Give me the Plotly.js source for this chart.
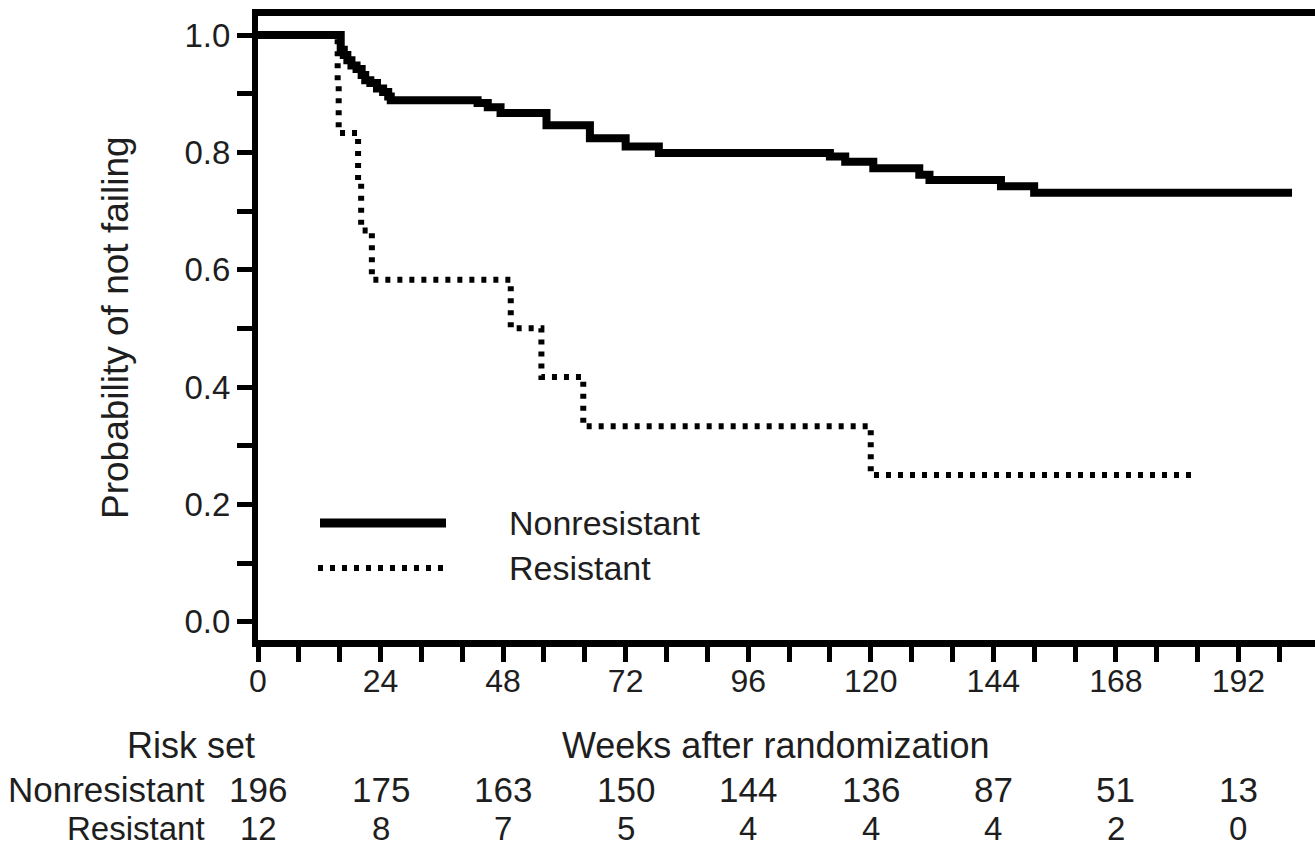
<!DOCTYPE html>
<html>
<head>
<meta charset="utf-8">
<script src="https://cdn.plot.ly/plotly-3.0.1.min.js"></script>
<style>html,body{margin:0;padding:0;background:#fff;}#chart{width:1315px;height:849px;}</style>
</head>
<body>
<div id="chart"></div>
<script>
// Kaplan-Meier curves (weeks, probability of not failing)
var nrWeeks = [0, 16.2, 16.8, 17.5, 18.3, 19.3, 20.3, 21.0, 22.0, 23.3, 24.5, 25.5, 26.0, 43.0, 45.0, 47.5, 56.5, 65.0, 72.0, 78.5, 112.0, 115.0, 120.5, 129.5, 131.5, 145.5, 152.0, 202.5];
var nrSurv  = [1.0, 0.975, 0.966, 0.957, 0.948, 0.942, 0.932, 0.923, 0.918, 0.909, 0.903, 0.895, 0.889, 0.884, 0.877, 0.867, 0.846, 0.824, 0.810, 0.799, 0.793, 0.784, 0.773, 0.762, 0.753, 0.742, 0.731, 0.731];
var rWeeks = [0, 15.6, 15.8, 19.6, 20.2, 22.3, 49.5, 55.5, 63.7, 120.0, 183.0];
var rSurv  = [1.0, 0.917, 0.833, 0.750, 0.667, 0.583, 0.500, 0.417, 0.333, 0.250, 0.250];

// Risk table
var riskWeeks = [0, 24, 48, 72, 96, 120, 144, 168, 192];
var riskNonresistant = [196, 175, 163, 150, 144, 136, 87, 51, 13];
var riskResistant = [12, 8, 7, 5, 4, 4, 4, 2, 0];
var groupNames = ['Nonresistant', 'Resistant'];

var FONT = 'Liberation Sans, Arial, Helvetica, sans-serif';
var TXT = '#1e1e1e';
var DOTS = '5px,7px';

var traces = [
  {x: nrWeeks, y: nrSurv, type: 'scatter', mode: 'lines', name: groupNames[0],
   line: {shape: 'hv', color: 'black', width: 8}, hoverinfo: 'skip'},
  {x: rWeeks, y: rSurv, type: 'scatter', mode: 'lines', name: groupNames[1],
   line: {shape: 'hv', color: 'black', width: 6, dash: DOTS}, hoverinfo: 'skip'}
];

// pixel helpers for layout decoration (plot: left 258, width 1057, top 16, height 624)
function px(xp){ return (xp - 258) / 1057; }
function py(yp){ return (640 - yp) / 624; }

var ann = [];
ann.push({text: 'Probability of not failing', xref: 'paper', yref: 'paper', x: px(115), y: 0.5,
  textangle: -90, showarrow: false, xanchor: 'center', yanchor: 'middle', font: {size: 37, family: FONT, color: TXT}});
ann.push({text: 'Risk set', xref: 'paper', yref: 'paper', x: px(191), y: py(745),
  showarrow: false, xanchor: 'center', yanchor: 'middle', font: {size: 36, family: FONT, color: TXT}});
ann.push({text: 'Weeks after randomization', xref: 'paper', yref: 'paper', x: px(776), y: py(745),
  showarrow: false, xanchor: 'center', yanchor: 'middle', font: {size: 36, family: FONT, color: TXT}});
ann.push({text: groupNames[0], xref: 'paper', yref: 'paper', x: px(207), y: py(789),
  showarrow: false, xanchor: 'right', yanchor: 'middle', font: {size: 35, family: FONT, color: TXT}});
ann.push({text: groupNames[1], xref: 'paper', yref: 'paper', x: px(207), y: py(828),
  showarrow: false, xanchor: 'right', yanchor: 'middle', font: {size: 33, family: FONT, color: TXT}});
for (var i = 0; i < riskWeeks.length; i++) {
  ann.push({text: String(riskNonresistant[i]), xref: 'x', yref: 'paper', x: riskWeeks[i], y: py(789),
    showarrow: false, xanchor: 'center', yanchor: 'middle', font: {size: 35, family: FONT, color: TXT}});
  ann.push({text: String(riskResistant[i]), xref: 'x', yref: 'paper', x: riskWeeks[i], y: py(828),
    showarrow: false, xanchor: 'center', yanchor: 'middle', font: {size: 33, family: FONT, color: TXT}});
}
// legend text
ann.push({text: groupNames[0], xref: 'paper', yref: 'paper', x: px(507), y: py(523),
  showarrow: false, xanchor: 'left', yanchor: 'middle', font: {size: 34, family: FONT, color: TXT}});
ann.push({text: groupNames[1], xref: 'paper', yref: 'paper', x: px(507), y: py(568),
  showarrow: false, xanchor: 'left', yanchor: 'middle', font: {size: 34, family: FONT, color: TXT}});

var shapes = [
  {type: 'line', xref: 'paper', yref: 'paper', x0: px(320), x1: px(446), y0: py(523), y1: py(523),
   line: {color: 'black', width: 9}},
  {type: 'line', xref: 'paper', yref: 'paper', x0: px(318), x1: px(445), y0: py(568), y1: py(568),
   line: {color: 'black', width: 6, dash: DOTS}}
];

var layout = {
  width: 1315, height: 849,
  margin: {l: 258, r: 0, t: 16, b: 209, pad: 0},
  paper_bgcolor: 'white', plot_bgcolor: 'white',
  showlegend: false,
  font: {family: FONT, color: TXT},
  xaxis: {
    range: [0, 207], showline: true, linewidth: 7, linecolor: 'black', mirror: true,
    ticks: 'outside', ticklen: 15, tickwidth: 5, tickcolor: 'black',
    tick0: 0, dtick: 24, ticklabelstandoff: -8,
    minor: {dtick: 8, tick0: 0, ticks: 'outside', ticklen: 15, tickwidth: 5, tickcolor: 'black', showgrid: false},
    showgrid: false, zeroline: false, tickfont: {size: 32, family: FONT, color: TXT}
  },
  yaxis: {
    range: [-0.0312, 1.0324], showline: true, linewidth: 6, linecolor: 'black',
    ticks: 'outside', ticklen: 15, tickwidth: 5, tickcolor: 'black',
    tick0: 0, dtick: 0.2, tickformat: '.1f',
    minor: {dtick: 0.1, tick0: 0, ticks: 'outside', ticklen: 15, tickwidth: 5, tickcolor: 'black', showgrid: false},
    showgrid: false, zeroline: false, tickfont: {size: 33, family: FONT, color: TXT}
  },
  annotations: ann,
  shapes: shapes
};

Plotly.newPlot('chart', traces, layout, {staticPlot: true, displayModeBar: false});
</script>
</body>
</html>
